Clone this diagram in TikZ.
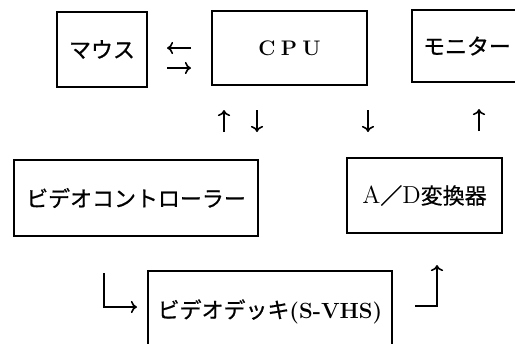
\documentclass[tikz,border=0pt]{standalone}
\usepackage{fontspec}
\newfontfamily\cjk[FakeBold=0.7]{Noto Sans CJK JP}
\usetikzlibrary{positioning,arrows.meta}

\tikzset{
  box/.style={draw, line width=0.9pt, rectangle, inner sep=0pt,
              font=\cjk\fontsize{12.5}{14}\selectfont},
  arr/.style={line width=0.9pt, -{To[length=3.5pt,width=7pt]}},
}

\begin{document}
\begin{tikzpicture}[x=0.02cm, y=-0.02cm]
\useasboundingbox (0,0) rectangle (515,343);
\begin{scope}
\clip (0,0) rectangle (515,343);

% boxes
\node[box, minimum width=1.8cm, minimum height=1.5cm] (mouse) at (102,49.5) {マウス};
\node[box, minimum width=3.1cm, minimum height=1.48cm, font=\rmfamily\bfseries\fontsize{12}{14}\selectfont]
      (cpu) at (289.5,48) {\makebox[0pt]{\hspace*{0.9cm}C\hspace{0.25em}P\hspace{0.25em}U}\hspace*{0.9cm}};
\node[box, minimum width=2.2cm, minimum height=1.44cm] (monitor) at (467,46) {モニター};
\node[box, minimum width=4.88cm, minimum height=1.52cm] (ctrl) at (136,198) {ビデオコントローラー};
\node[box, minimum width=3.1cm, minimum height=1.5cm] (adc) at (424.5,195.5)
      {{\rmfamily\fontsize{14}{14}\selectfont A}／{\rmfamily\fontsize{14}{14}\selectfont D}変換器};
\node[box, minimum width=4.88cm, minimum height=1.62cm] (deck) at (270,311.5)
      {ビデオデッキ{\rmfamily\bfseries(S-VHS)}};

% short arrows
\coordinate (m1) at (191,48);
\coordinate (m2) at (167,48);
\coordinate (m3) at (167,68);
\coordinate (m4) at (191,68);
\draw[arr] (m1) -- (m2);
\draw[arr] (m3) -- (m4);

\coordinate (u1) at (224,132);
\coordinate (u2) at (224,110);
\coordinate (d1) at (257,110);
\coordinate (d2) at (257,132);
\coordinate (d3) at (368,110);
\coordinate (d4) at (368,132);
\coordinate (u3) at (479,131);
\coordinate (u4) at (479,109);
\draw[arr] (u1) -- (u2);
\draw[arr] (d1) -- (d2);
\draw[arr] (d3) -- (d4);
\draw[arr] (u3) -- (u4);

% deck arrows
\coordinate (l1) at (104,273);
\coordinate (l2) at (137,307);
\coordinate (r1) at (415,306);
\coordinate (r2) at (437,265);
\draw[arr] (l1) |- (l2);
\draw[arr] (r1) -| (r2);

\end{scope}
\end{tikzpicture}
\end{document}
